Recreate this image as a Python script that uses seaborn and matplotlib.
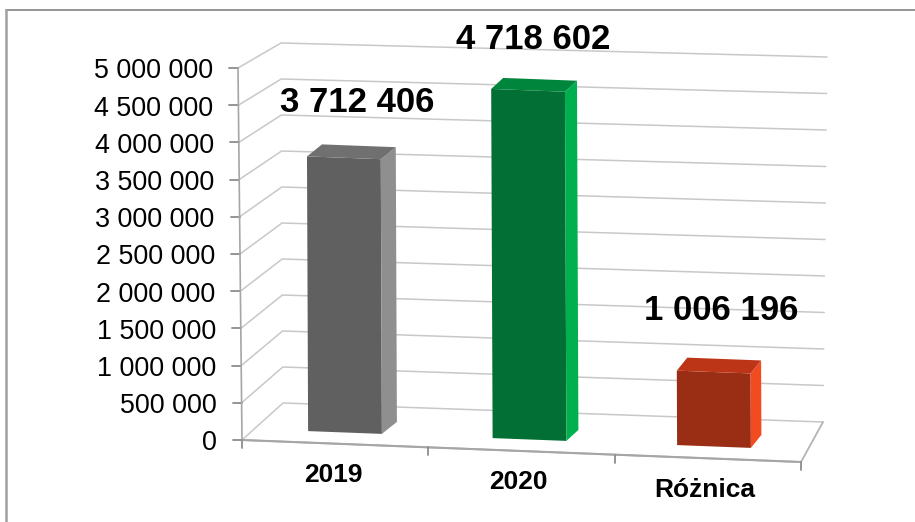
import pandas as pd
import numpy as np
import seaborn as sns
import matplotlib.pyplot as plt
from matplotlib.patches import Polygon
from matplotlib.transforms import Affine2D

categories = ['2019', '2020', 'Różnica']
values = [3712406, 4718602, 1006196]
value_labels = ['3 712 406', '4 718 602', '1 006 196']
tick_values = [0, 500000, 1000000, 1500000, 2000000, 2500000, 3000000, 3500000, 4000000, 4500000, 5000000]
tick_labels = ['0', '500 000', '1 000 000', '1 500 000', '2 000 000', '2 500 000',
               '3 000 000', '3 500 000', '4 000 000', '4 500 000', '5 000 000']

front_colors = ['#606060', '#027035', '#9A2E14']
side_colors = ['#8F8F8F', '#00B04F', '#F24B20']
top_colors = ['#707070', '#00853D', '#BC3517']

sns.set_theme(style='white')
plt.rcParams['font.family'] = ['Liberation Sans', 'DejaVu Sans']

df = pd.DataFrame({'cat': categories, 'value': values})

fig, ax = plt.subplots(figsize=(9.15, 5.22), dpi=100)
sns.barplot(data=df, x='cat', y='value', hue='cat', palette=front_colors,
            width=0.40, legend=False, saturation=1, ax=ax, zorder=3)

# axes fill the figure, limits in pixels, y down
ax.set_position([0, 0, 1, 1])
ax.set_xlim(0, 915)
ax.set_ylim(522, 0)
ax.axis('off')

# (category, value) -> pixel, the skew of the bar fronts
skew = Affine2D(np.array([[184.5, -0.3e-6, 345.0],
                          [7.0, -74e-6, 432.5],
                          [0, 0, 1]]))


def wall_left(v, back):
    f = v / 5000000
    if back:
        return 283 - 2 * f, 403 - 360 * f
    return 242 - 4 * f, 440 - 372 * f


def wall_right(v):
    f = v / 5000000
    return 823 + 4 * f, 422 - 365 * f


# walls and floor
for v, lab in zip(tick_values, tick_labels):
    x0, y0 = wall_left(v, False)
    x1, y1 = wall_left(v, True)
    x2, y2 = wall_right(v)
    ax.plot([x0, x1, x2], [y0, y1, y2], color='#C8C8C8', lw=1.1, zorder=1)
    ax.plot([x0 - 9, x0], [y0, y0], color='#8C8C8C', lw=1.3, zorder=2)
    ax.text(x0 - 25, y0 + 3.5, lab, ha='right', va='center', fontsize=19.4, color='black')

ax.plot([wall_left(0, False)[0], wall_left(5000000, False)[0]],
        [wall_left(0, False)[1], wall_left(5000000, False)[1]], color='#A6A6A6', lw=1.2, zorder=2)
ax.plot([242, 801, 823], [440, 462, 422], color='#B4B4B4', lw=1.3, zorder=2)
ax.plot([242, 801], [440, 462], color='#A6A6A6', lw=1.5, zorder=2)
for i in range(4):
    xt = 242 + (801 - 242) * i / 3
    yt = 440 + (462 - 440) * i / 3
    ax.plot([xt, xt], [yt, yt + 8], color='#8C8C8C', lw=1.3, zorder=2)

# bars: seaborn draws the fronts, the other faces follow from them
depth = [(15, -12), (12, -11), (10.5, -13)]
label_pos = [(357, 102), (533, 39.5), (721, 311)]
cat_label_pos = [(333, 475), (518, 482), (705, 490)]
bars = list(ax.patches)
for i, bar in enumerate(bars):
    bar.set_transform(skew + ax.transData)
    bar.set_edgecolor('none')
    bar.set_clip_on(False)
    x0 = bar.get_x()
    x1 = x0 + bar.get_width()
    h = bar.get_height()
    bl, br, tl, tr = skew.transform([(x0, 0), (x1, 0), (x0, h), (x1, h)])
    dx, dy = depth[i]
    ax.add_patch(Polygon([br, tr, tr + (dx, dy), br + (dx, dy)], closed=True,
                         facecolor=side_colors[i], edgecolor='none', zorder=3))
    ax.add_patch(Polygon([tl, tr, tr + (dx, dy), tl + (dx, dy)], closed=True,
                         facecolor=top_colors[i], edgecolor='none', zorder=3))
    ax.text(label_pos[i][0], label_pos[i][1], value_labels[i], ha='center', va='center',
            fontsize=25, fontweight='bold', color='black', zorder=5)
    ax.text(cat_label_pos[i][0], cat_label_pos[i][1], categories[i], ha='center', va='center',
            fontsize=19, fontweight='bold', color='black', zorder=5)

# chart frame
ax.plot([6, 915], [9.5, 9.5], color='#8C8C8C', lw=1.3, zorder=0)
ax.plot([6, 6], [9.5, 522], color='#A0A0A0', lw=1.8, zorder=0)

fig.savefig('out.png', dpi=100)
